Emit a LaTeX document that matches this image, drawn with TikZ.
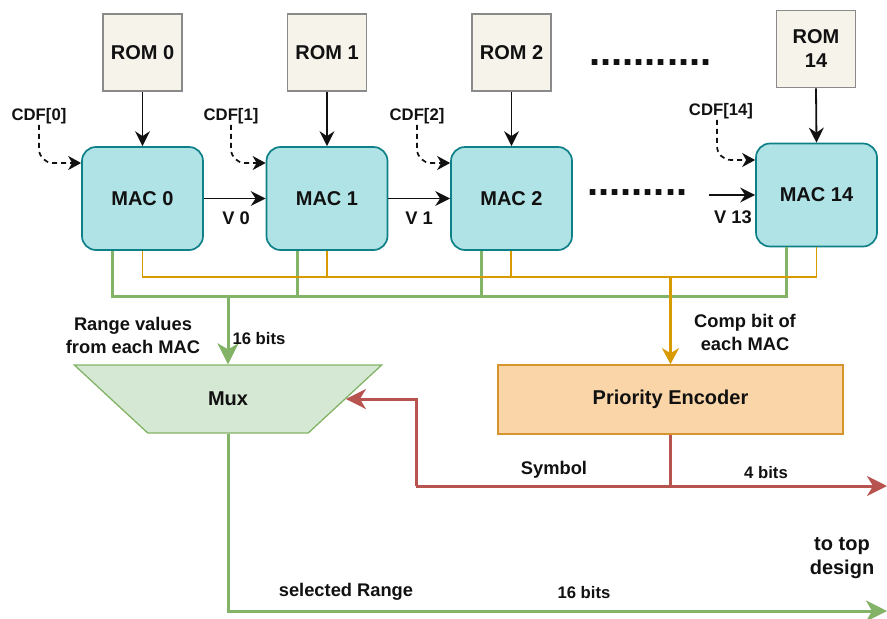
\documentclass[tikz,border=0pt]{standalone}
\usepackage{fontspec}
\setmainfont{Liberation Sans}
\usetikzlibrary{arrows.meta,shapes.geometric}

\definecolor{macfill}{HTML}{B0E3E6}
\definecolor{macdraw}{HTML}{0E8088}
\definecolor{romfill}{HTML}{F5F3EA}
\definecolor{romdraw}{HTML}{8A8A8A}
\definecolor{muxfill}{HTML}{D5E8D4}
\definecolor{greenline}{HTML}{82B366}
\definecolor{pefill}{HTML}{FAD5A8}
\definecolor{pedraw}{HTML}{D6942E}
\definecolor{orangeline}{HTML}{D79B00}
\definecolor{redline}{HTML}{B85450}
\definecolor{ink}{HTML}{111111}

\tikzset{
  bigf/.style={font=\fontsize{20}{24}\selectfont\bfseries, text=ink},
  medf/.style={font=\fontsize{18.3}{23}\selectfont\bfseries, text=ink},
  smallf/.style={font=\fontsize{16.7}{20}\selectfont\bfseries, text=ink},
  rombox/.style={draw=romdraw, fill=romfill, line width=1.8pt, minimum width=79pt,
    minimum height=77pt, bigf, align=center, inner sep=2pt},
  macbox/.style={draw=macdraw, fill=macfill, line width=1.7pt, rounded corners=14pt,
    minimum width=121pt, minimum height=103pt, bigf},
  lbl/.style={inner sep=1pt},
  blackarr/.style={draw=ink, line width=1.8pt, -{Stealth[length=15pt,width=15pt,inset=5pt]}},
  cdfarr/.style={draw=ink, line width=1.7pt, dash pattern=on 5pt off 4pt, rounded corners=14pt,
    -{Stealth[length=13pt,width=14pt,inset=4pt]}},
  gline/.style={draw=greenline, line width=3pt},
  oline/.style={draw=orangeline, line width=1.8pt},
  rline/.style={draw=redline, line width=3pt},
  gtip/.style={-{Stealth[length=21pt,width=21pt,inset=6pt]}},
  rtip/.style={-{Stealth[length=20pt,width=20pt,inset=6pt]}},
  otip/.style={-{Stealth[length=16pt,width=17pt,inset=5pt]}},
  dotrow/.style={font=\fontsize{40}{40}\selectfont\bfseries, text=ink, inner sep=0pt, anchor=base west},
}

\begin{document}
\begin{tikzpicture}[x=1pt,y=-1pt]
\useasboundingbox (0,0) rectangle (887,619);

% ROM blocks
\node[rombox] (rom0)  at (142.5,52.5) {ROM 0};
\node[rombox] (rom1)  at (327,52.5)   {ROM 1};
\node[rombox] (rom2)  at (511.5,52.5) {ROM 2};
\node[rombox] (rom14) at (816,49)     {ROM\\14};

% MAC units
\node[macbox] (mac0)  at (142.5,198.5) {MAC 0};
\node[macbox] (mac1)  at (327,198.5)   {MAC 1};
\node[macbox] (mac2)  at (511.5,198.5) {MAC 2};
\node[macbox] (mac14) at (816.5,195)   {MAC 14};

% elided stages
\node[dotrow] (dotsrom) at (589,65)  {...........};
\node[dotrow] (dotsmac) at (587,195) {.........};

% ROM to MAC
\foreach \i in {0,1,2,14} {
  \draw[blackarr] (rom\i.south) -- (mac\i.north);
}

% CDF inputs
\node[lbl,smallf] (cdf0)  at (39,116)  {CDF[0]};
\node[lbl,smallf] (cdf1)  at (231,116) {CDF[1]};
\node[lbl,smallf] (cdf2)  at (417,116) {CDF[2]};
\node[lbl,smallf] (cdf14) at (721,111) {CDF[14]};
\draw[cdfarr] (cdf0.south) |- (mac0.west |- 0,163);
\draw[cdfarr] (cdf1.south) |- (mac1.west |- 0,163);
\draw[cdfarr] (cdf2.south) |- (mac2.west |- 0,163);
\draw[cdfarr] ([xshift=-4pt]cdf14.south) |- (mac14.west |- 0,160);

% chained values
\coordinate (v13s) at (709,195);
\draw[blackarr] (mac0.east) -- (mac1.west);
\draw[blackarr] (mac1.east) -- (mac2.west);
\draw[blackarr] (v13s) -- (mac14.west);
\node[lbl,medf] (v0)  at (236,218) {V 0};
\node[lbl,medf] (v1)  at (419,218) {V 1};
\node[lbl,medf] (v13) at (733,217) {V 13};

% Mux and priority encoder
\node[draw=greenline, fill=muxfill, line width=1.3pt, trapezium, trapezium stretches=true,
  trapezium left angle=44, trapezium right angle=44, shape border rotate=180,
  minimum width=310pt, minimum height=68pt, bigf] (mux) at (228,399) {Mux};
\node[draw=pedraw, fill=pefill, line width=1.7pt, minimum width=345pt,
  minimum height=69pt, bigf] (pe) at (670.5,399.5) {Priority Encoder};

% range value bus (green)
\coordinate (gy) at (0,296);
\coordinate (g0)  at ([xshift=-30pt]mac0.south);
\coordinate (g1)  at ([xshift=-30pt]mac1.south);
\coordinate (g2)  at ([xshift=-30pt]mac2.south);
\coordinate (g14) at ([xshift=-30pt]mac14.south);
\draw[gline] (g0) |- (g14 |- gy) -- (g14);
\draw[gline] (g1) -- (g1 |- gy);
\draw[gline] (g2) -- (g2 |- gy);

% comparison bit bus (orange)
\coordinate (oy) at (0,277);
\draw[oline] (mac0.south) |- (mac14.south |- oy) -- (mac14.south);
\draw[oline] (mac1.south) -- (mac1.south |- oy);
\draw[oline] ([xshift=-0.5pt]mac2.south) -- ([xshift=-0.5pt]mac2.south |- oy);

\draw[gline, gtip] (mux.90 |- gy) -- (mux.90);
\draw[oline, line width=2.4pt, otip] (pe.north |- oy) -- (pe.north);

\node[lbl,medf,align=center] (rangelbl) at (133,335) {Range values\\from each MAC};
\node[lbl,smallf] (bits16a) at (259,339) {16 bits};
\node[lbl,medf,align=center] (complbl) at (745,332) {Comp bit of\\each MAC};

% symbol output (red)
\coordinate (rj) at (pe.south |- 0,486);
\coordinate (rcorner) at (416,486);
\coordinate (rout) at (887,486);
\draw[rline] (pe.south) -- (rj);
\draw[rline, rtip] (rcorner) -- (rout);
\draw[rline, rtip] (rcorner) |- (mux.0);
\node[lbl,medf] (symlbl) at (554,470) {Symbol};
\node[lbl,smallf] (bits4) at (766,473) {4 bits};

% selected range output (green)
\coordinate (gout) at (887,611);
\draw[gline, gtip] (mux.270) |- (gout);
\node[lbl,medf] (sellbl) at (346,592) {selected Range};
\node[lbl,smallf] (bits16b) at (584,593) {16 bits};
\node[lbl,bigf,align=center] (toplbl) at (842,558) {to top\\design};

\end{tikzpicture}
\end{document}
